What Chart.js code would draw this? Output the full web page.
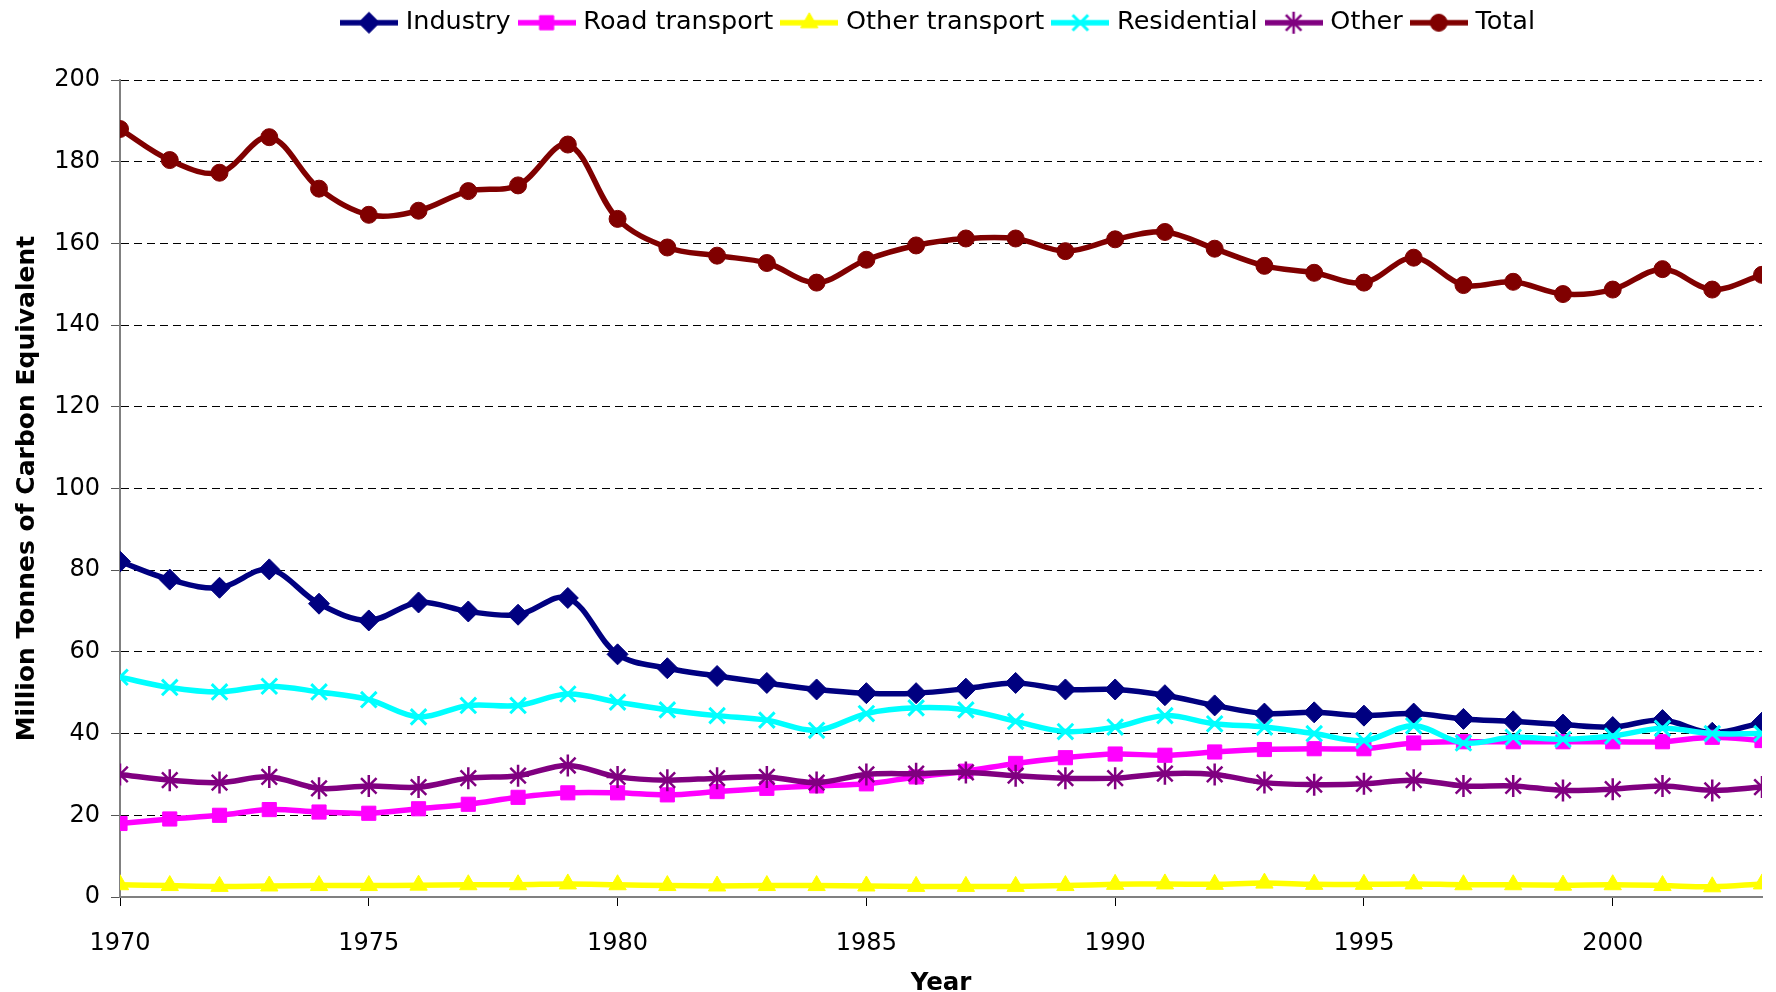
<!DOCTYPE html>
<html>
<head>
<meta charset="utf-8">
<script src="https://cdn.jsdelivr.net/npm/chart.js@4.4.1/dist/chart.umd.min.js"></script>
<style>
  html, body { margin: 0; padding: 0; background: #fff; }
  #wrap { width: 1776px; height: 992px; }
</style>
</head>
<body>
<div id="wrap"><canvas id="chart"></canvas></div>
<script>
const years = [];
for (let y = 1970; y <= 2003; y++) years.push(y);

const industry = [82.1, 77.7, 75.7, 80.2, 71.8, 67.7, 72.1, 69.9, 69.1, 73.2,
    59.4, 56.0, 54.1, 52.4, 50.8, 49.9, 49.9, 51.0, 52.4, 50.8,
    50.8, 49.4, 46.9, 44.9, 45.2, 44.4, 44.9, 43.6, 43.0, 42.2,
    41.6, 43.3, 40.2, 42.7];
const roadTransport = [18.0, 19.1, 20.0, 21.4, 20.8, 20.5, 21.6, 22.7, 24.4, 25.5,
    25.5, 25.0, 25.8, 26.6, 27.2, 27.7, 29.4, 30.8, 32.7, 34.1,
    35.0, 34.7, 35.5, 36.1, 36.3, 36.3, 37.7, 38.0, 38.0, 38.0,
    38.0, 38.0, 39.1, 38.3];
const otherTransport = [3.0, 2.8, 2.6, 2.7, 2.8, 2.8, 2.9, 3.0, 3.0, 3.2,
    3.0, 2.8, 2.7, 2.8, 2.8, 2.7, 2.6, 2.6, 2.6, 2.8,
    3.1, 3.2, 3.1, 3.4, 3.1, 3.1, 3.2, 3.0, 3.0, 2.9,
    3.0, 2.8, 2.5, 3.2];
const residential = [53.8, 51.3, 50.2, 51.6, 50.2, 48.3, 44.1, 46.9, 46.9, 49.7,
    47.7, 45.8, 44.4, 43.3, 40.8, 44.9, 46.3, 45.8, 43.0, 40.5,
    41.6, 44.4, 42.4, 41.6, 40.0, 38.3, 41.9, 37.7, 39.1, 38.6,
    39.4, 41.3, 40.0, 40.0];
const other = [30.0, 28.6, 28.0, 29.4, 26.6, 27.2, 26.9, 29.1, 29.7, 32.2,
    29.4, 28.6, 29.1, 29.4, 28.0, 30.0, 30.2, 30.5, 29.7, 29.1,
    29.1, 30.2, 30.0, 28.0, 27.5, 27.7, 28.6, 27.2, 27.2, 26.1,
    26.4, 27.2, 26.1, 26.9];
const total = [188.0, 180.4, 177.3, 186.0, 173.4, 167.0, 168.0, 172.8, 174.2, 184.2,
    166.0, 159.0, 157.0, 155.2, 150.4, 156.0, 159.5, 161.2, 161.2, 158.1,
    161.0, 162.8, 158.7, 154.5, 152.8, 150.4, 156.5, 149.8, 150.6, 147.6,
    148.7, 153.7, 148.7, 152.3];

const seriesNames = ['Industry', 'Road transport', 'Other transport', 'Residential', 'Other', 'Total'];
const seriesData = [industry, roadTransport, otherTransport, residential, other, total];
const seriesColors = ['#000080', '#FF00FF', '#FFFF00', '#00FFFF', '#800080', '#800000'];
const markerStyles = ['rectRot', 'rect', 'triangle', 'crossRot', 'star', 'circle'];
const markerSizes = [10.5, 10, 10, 11, 11, 8.5];
const markerBorders = [1, 1, 1, 3, 2.5, 1];

const FONT = "'DejaVu Sans', Verdana, sans-serif";
const LEGEND_H = 80;

// little line + marker icons for the legend, like the spreadsheet one
const legendIcon = (color, style, radius, bw) => {
    const c = document.createElement('canvas');
    c.width = 58; c.height = 26;
    const ctx = c.getContext('2d');
    ctx.strokeStyle = color;
    ctx.fillStyle = color;
    ctx.lineWidth = 5.5;
    ctx.beginPath();
    ctx.moveTo(0, 13);
    ctx.lineTo(58, 13);
    ctx.stroke();
    ctx.lineWidth = bw;
    Chart.helpers.drawPoint(ctx, { pointStyle: style, radius: radius, borderWidth: bw, rotation: 0 }, 29, 13);
    return c;
};
const icons = seriesNames.map((_, i) => legendIcon(seriesColors[i], markerStyles[i], markerSizes[i], markerBorders[i]));

const datasets = seriesNames.map((name, i) => ({
    label: name,
    data: years.map((y, k) => ({ x: y, y: seriesData[i][k] })),
    borderColor: seriesColors[i],
    backgroundColor: seriesColors[i],
    borderWidth: 5.5,
    tension: 0.35,
    pointStyle: markerStyles[i],
    pointRadius: markerSizes[i],
    pointBorderWidth: markerBorders[i],
    pointHoverRadius: markerSizes[i],
    order: seriesNames.length - i
}));

// fixed legend band height, and nudge it to where the original sits
const legendPlace = {
    id: 'legendPlace',
    beforeLayout(chart) {
        const lg = chart.legend;
        if (lg && !lg._patched) {
            const fit = lg.fit.bind(lg);
            lg.fit = function () { fit(); this.height = LEGEND_H; };
            lg._patched = true;
        }
    },
    afterLayout(chart) {
        const lg = chart.legend;
        lg.left += 58; lg.right += 58;
        lg.top -= 2; lg.bottom -= 2;
    }
};

new Chart(document.getElementById('chart'), {
    type: 'line',
    data: { datasets },
    plugins: [legendPlace],
    options: {
        responsive: true,
        maintainAspectRatio: false,
        animation: false,
        devicePixelRatio: 1,
        layout: { padding: { top: 0, right: 12, left: 0, bottom: 0 } },
        plugins: {
            tooltip: { enabled: false },
            legend: {
                position: 'top',
                labels: {
                    usePointStyle: true,
                    pointStyleWidth: 48,
                    padding: 12,
                    color: '#000',
                    font: { family: FONT, size: 25.5 },
                    generateLabels: chart => chart.data.datasets.map((ds, i) => ({
                        text: ds.label,
                        pointStyle: icons[i],
                        fillStyle: ds.borderColor,
                        strokeStyle: ds.borderColor,
                        lineWidth: 0,
                        hidden: false,
                        datasetIndex: i,
                        fontColor: '#000'
                    }))
                }
            }
        },
        scales: {
            x: {
                type: 'linear',
                min: 1970,
                max: 2003,
                offset: false,
                afterBuildTicks: scale => {
                    scale.ticks = scale.ticks.filter(t => t.value % 5 === 0);
                },
                afterFit: scale => { scale.height = 95; },
                ticks: {
                    stepSize: 5,
                    color: '#000',
                    padding: 23,
                    maxRotation: 0,
                    autoSkip: false,
                    font: { family: FONT, size: 24 },
                    callback: v => String(v)
                },
                grid: {
                    drawOnChartArea: false,
                    drawTicks: true,
                    tickLength: 9,
                    tickColor: '#000'
                },
                border: { color: '#808080', width: 2 },
                title: {
                    display: true,
                    text: 'Year',
                    color: '#000',
                    font: { family: FONT, size: 24.5, weight: 'bold', lineHeight: 0.75 },
                    padding: { top: 0, bottom: -1 }
                }
            },
            y: {
                min: 0,
                max: 200,
                afterFit: scale => { scale.width = 120; },
                ticks: {
                    stepSize: 20,
                    color: '#000',
                    padding: 11,
                    font: { family: FONT, size: 24 }
                },
                grid: {
                    color: '#000',
                    lineWidth: 1,
                    tickLength: 9,
                    tickColor: '#555',
                    tickBorderDash: []
                },
                border: { color: '#808080', width: 2, dash: [8, 5] },
                title: {
                    display: true,
                    text: 'Million Tonnes of Carbon Equivalent',
                    color: '#000',
                    font: { family: FONT, size: 25, weight: 'bold' },
                    padding: { top: 12, bottom: 0 }
                }
            }
        }
    }
});
</script>
</body>
</html>
